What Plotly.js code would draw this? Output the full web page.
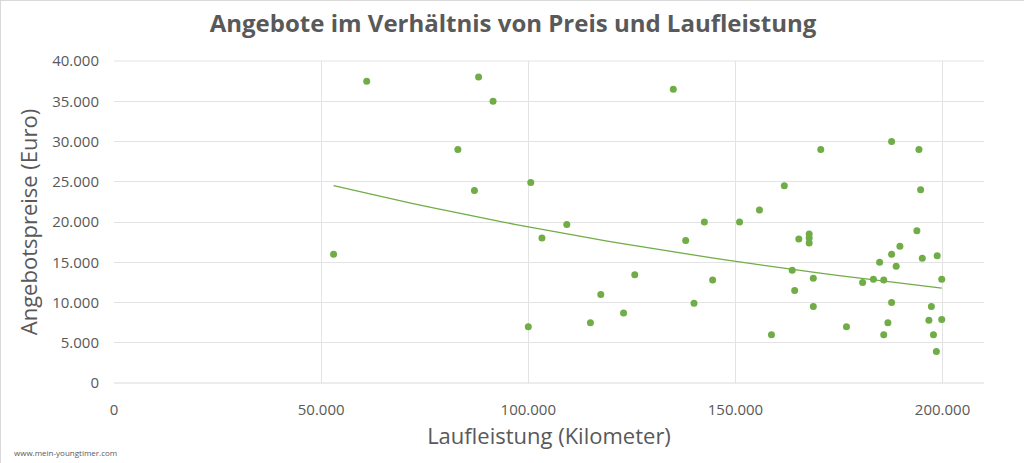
<!DOCTYPE html>
<html>
<head>
<meta charset="utf-8">
<script src="https://cdn.plot.ly/plotly-3.0.1.min.js"></script>
<style>
  html, body { margin: 0; padding: 0; background: #fff; }
  #graphDiv { width: 1024px; height: 463px; box-sizing: border-box; border: 1px solid #d9d9d9; }
</style>
</head>
<body>
<div id="graphDiv"></div>
<script>
// Laufleistung (km) der Angebote
let mileage = [
    53000, 61000, 83000, 87000, 88000, 91500, 100000, 100600, 103300, 109300,
    115000, 117500, 123000, 125700, 135000, 138000, 140000, 142500, 144500, 151000,
    155800, 158700, 161800, 163700, 164300, 165300, 167800, 167800, 167800, 168800,
    168800, 170600, 176800, 180700, 183300, 184800, 185800, 185800, 186800, 187700,
    187700, 187700, 188800, 189700, 193800, 194300, 194700, 195100, 196700, 197300,
    197800, 198500, 198700, 199800, 199800
];
// Angebotspreis (Euro) der Angebote
let price = [
    16000, 37500, 29000, 23900, 38000, 35000, 7000, 24900, 18000, 19700,
    7500, 11000, 8700, 13450, 36500, 17700, 9900, 20000, 12800, 20000,
    21500, 6000, 24500, 14000, 11500, 17900, 18500, 18000, 17400, 13000,
    9500, 29000, 7000, 12500, 12900, 15000, 12800, 6000, 7500, 30000,
    16000, 10000, 14500, 17000, 18900, 29000, 24000, 15500, 7800, 9500,
    6000, 3900, 15800, 12900, 7900
];
let xTicks = [0, 50000, 100000, 150000, 200000];
let yTicks = [0, 5000, 10000, 15000, 20000, 25000, 30000, 35000, 40000];

// exponential trendline like Excel: regression of ln(price) on mileage
function expTrend(xs, ys) {
    let n = xs.length, sx = 0, sy = 0, sxx = 0, sxy = 0;
    for (let i = 0; i < n; i++) {
        let ly = Math.log(ys[i]);
        sx += xs[i]; sy += ly; sxx += xs[i] * xs[i]; sxy += xs[i] * ly;
    }
    let b = (n * sxy - sx * sy) / (n * sxx - sx * sx);
    let a = Math.exp((sy - b * sx) / n);
    let xMin = Math.min(...xs), xMax = Math.max(...xs);
    let tx = [], ty = [];
    for (let k = 0; k <= 40; k++) {
        let x = xMin + (xMax - xMin) * k / 40;
        tx.push(x);
        ty.push(a * Math.exp(b * x));
    }
    return [tx, ty];
}

let green = '#70ad47';
let grey = '#595959';
let trend = expTrend(mileage, price);

let data = [{
    x: trend[0],
    y: trend[1],
    type: 'scatter',
    mode: 'lines',
    line: {color: green, width: 1.3},
    hoverinfo: 'skip'
}, {
    x: mileage,
    y: price,
    type: 'scatter',
    mode: 'markers',
    marker: {color: green, size: 7}
}];

let layout = {
    width: 1024,
    height: 463,
    showlegend: false,
    separators: ',.',
    paper_bgcolor: '#ffffff',
    plot_bgcolor: '#ffffff',
    font: {family: 'Open Sans, sans-serif', color: grey},
    margin: {l: 113, r: 41, t: 60, b: 81},
    title: {
        text: '<b>Angebote im Verhältnis von Preis und Laufleistung</b>',
        font: {size: 24, color: grey},
        x: 0.5, xanchor: 'center',
        y: 0.952, yanchor: 'middle'
    },
    xaxis: {
        range: [0, 210000],
        tickvals: xTicks,
        tickformat: ',d',
        showgrid: true,
        gridcolor: '#e3e3e3',
        zeroline: false,
        showline: false,
        tickfont: {size: 15, color: grey},
        ticklen: 0,
        ticklabelstandoff: 16,
        title: {text: 'Laufleistung (Kilometer)', font: {size: 22, color: grey}, standoff: 10}
    },
    yaxis: {
        range: [0, 40000],
        tickvals: yTicks,
        tickformat: ',d',
        showgrid: true,
        gridcolor: '#e3e3e3',
        zeroline: false,
        showline: false,
        tickfont: {size: 15, color: grey},
        ticklen: 0,
        ticklabelstandoff: 14,
        title: {text: 'Angebotspreise (Euro)', font: {size: 22, color: grey}, standoff: 8}
    },
    shapes: [{
        type: 'line', xref: 'paper', yref: 'paper',
        x0: 0, x1: 1, y0: 0, y1: 0,
        line: {color: '#d9d9d9', width: 1}
    }, {
        type: 'line', xref: 'paper', yref: 'paper',
        x0: 0, x1: 1, y0: 1, y1: 1,
        line: {color: '#e3e3e3', width: 1}
    }],
    annotations: [{
        text: 'www.mein-youngtimer.com',
        xref: 'paper', yref: 'paper',
        x: -0.117, y: -0.216,
        xanchor: 'left', yanchor: 'middle',
        showarrow: false,
        font: {size: 8, color: grey}
    }]
};

Plotly.newPlot('graphDiv', data, layout, {displayModeBar: false, staticPlot: true});
</script>
</body>
</html>
